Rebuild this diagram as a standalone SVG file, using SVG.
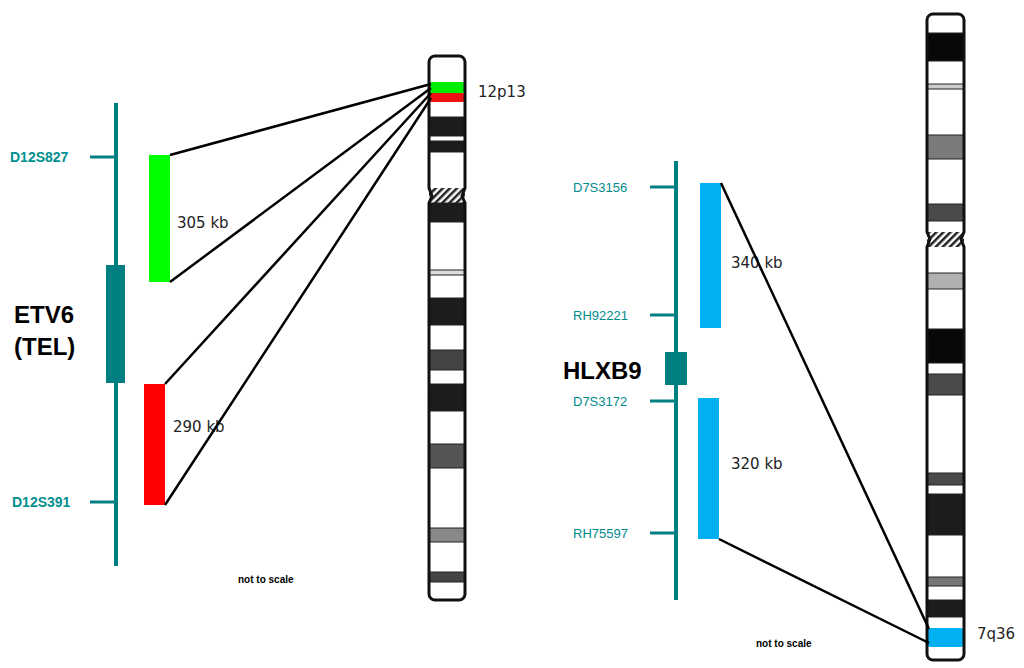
<svg xmlns="http://www.w3.org/2000/svg" width="1024" height="668" viewBox="0 0 1024 668">
<style>
.ax{stroke:#008080;stroke-width:4;fill:none}
.tk{stroke:#008080;stroke-width:3}
.ln{stroke:#000;stroke-width:2.5;fill:none}
.lb{font-family:"Liberation Sans",Arial,sans-serif;fill:#008b8b;font-size:13px}
.lbb{font-family:"Liberation Sans",Arial,sans-serif;fill:#009090;font-size:14px;font-weight:bold}
.kb{font-family:"DejaVu Sans",sans-serif;fill:#222;font-size:15px}
.bd{stroke:#222;stroke-width:1}
.ch{fill:none;stroke:#111;stroke-width:3}
</style>
<defs>
<pattern id="h" width="5" height="5" patternUnits="userSpaceOnUse" patternTransform="rotate(45)">
<rect width="5" height="5" fill="#fff"/><rect width="2.5" height="5" fill="#222"/>
</pattern>
</defs>
<rect width="1024" height="668" fill="#fff"/>
<g id="chr12">
<rect x="429" y="56" width="36" height="544" rx="6" fill="#fff"/>
<rect x="429" y="82" width="36" height="11" rx="3" fill="#00ee00"/>
<rect x="429" y="93" width="36" height="9" rx="3" fill="#ee1111"/>
<rect class="bd" x="429" y="117" width="36" height="19" fill="#1c1c1c"/>
<rect class="bd" x="429" y="141" width="36" height="11" fill="#1c1c1c"/>
<rect x="429" y="188" width="36" height="15" fill="url(#h)"/>
<rect class="bd" x="429" y="203" width="36" height="19" fill="#1c1c1c"/>
<rect class="bd" x="429" y="270" width="36" height="5" fill="#ddd"/>
<rect class="bd" x="429" y="298" width="36" height="27" fill="#1c1c1c"/>
<rect class="bd" x="429" y="350" width="36" height="20" fill="#444"/>
<rect class="bd" x="429" y="384" width="36" height="27" fill="#1c1c1c"/>
<rect class="bd" x="429" y="444" width="36" height="24" fill="#555"/>
<rect class="bd" x="429" y="528" width="36" height="14" fill="#888"/>
<rect class="bd" x="429" y="572" width="36" height="10" fill="#444"/>
<path class="ch" d="M435,56 h24 a6,6 0 0 1 6,6 v126 l-3,8 l3,7 v391 a6,6 0 0 1 -6,6 h-24 a6,6 0 0 1 -6,-6 v-391 l3,-7 l-3,-8 v-126 a6,6 0 0 1 6,-6 z"/>
<text x="478" y="97" class="kb" font-size="14">12p13</text>
</g>
<g id="chr7">
<rect x="927" y="14" width="37" height="646" rx="6" fill="#fff"/>
<rect class="bd" x="927" y="33" width="37" height="28" fill="#080808"/>
<rect class="bd" x="927" y="84" width="37" height="5" fill="#ccc"/>
<rect class="bd" x="927" y="135" width="37" height="24" fill="#7a7a7a"/>
<rect class="bd" x="927" y="204" width="37" height="17" fill="#4a4a4a"/>
<rect x="927" y="232" width="37" height="15" fill="url(#h)"/>
<rect class="bd" x="927" y="273" width="37" height="16" fill="#b0b0b0"/>
<rect class="bd" x="927" y="329" width="37" height="34" fill="#080808"/>
<rect class="bd" x="927" y="374" width="37" height="21" fill="#4a4a4a"/>
<rect class="bd" x="927" y="473" width="37" height="12" fill="#4a4a4a"/>
<rect class="bd" x="927" y="494" width="37" height="41" fill="#1c1c1c"/>
<rect class="bd" x="927" y="577" width="37" height="9" fill="#777"/>
<rect class="bd" x="927" y="600" width="37" height="17" fill="#1c1c1c"/>
<rect x="927" y="628" width="37" height="19" rx="4" fill="#00b0f0"/>
<path class="ch" d="M933,14 h25 a6,6 0 0 1 6,6 v212 l-3,7 l3,8 v407 a6,6 0 0 1 -6,6 h-25 a6,6 0 0 1 -6,-6 v-407 l3,-8 l-3,-7 v-212 a6,6 0 0 1 6,-6 z"/>
<text x="977" y="639" class="kb" font-size="14">7q36</text>
</g>
<g id="etv6">
<line class="ax" x1="116" y1="103" x2="116" y2="566"/>
<line class="tk" x1="90" y1="157" x2="116" y2="157"/>
<line class="tk" x1="90" y1="502" x2="116" y2="502"/>
<rect x="106" y="265" width="19" height="118" fill="#008080"/>
<text x="10" y="162" class="lbb">D12S827</text>
<text x="12" y="507" class="lbb">D12S391</text>
<text x="14" y="323" font-family="Liberation Sans,Arial,sans-serif" font-weight="bold" font-size="24">ETV6</text>
<text x="14" y="355" font-family="Liberation Sans,Arial,sans-serif" font-weight="bold" font-size="24">(TEL)</text>
<rect x="149" y="155" width="21" height="127" fill="#00ff00"/>
<rect x="144" y="384" width="21" height="121" fill="#ff0000"/>
<text x="177" y="228" class="kb">305 kb</text>
<text x="173" y="432" class="kb">290 kb</text>
<text x="238" y="583" font-family="Liberation Sans,Arial,sans-serif" font-weight="bold" font-size="10">not to scale</text>
</g>
<g id="hlxb9">
<line class="ax" x1="676" y1="161" x2="676" y2="600"/>
<line class="tk" x1="650" y1="187" x2="676" y2="187"/>
<line class="tk" x1="650" y1="315" x2="676" y2="315"/>
<line class="tk" x1="650" y1="401" x2="676" y2="401"/>
<line class="tk" x1="650" y1="533" x2="676" y2="533"/>
<rect x="665" y="352" width="22" height="33" fill="#008080"/>
<text x="573" y="192" class="lb">D7S3156</text>
<text x="573" y="320" class="lb">RH92221</text>
<text x="573" y="406" class="lb">D7S3172</text>
<text x="573" y="538" class="lb">RH75597</text>
<text x="563" y="379" font-family="Liberation Sans,Arial,sans-serif" font-weight="bold" font-size="24">HLXB9</text>
<rect x="700" y="183" width="21" height="145" fill="#00b0f0"/>
<rect x="698" y="398" width="21" height="141" fill="#00b0f0"/>
<text x="731" y="268" class="kb">340 kb</text>
<text x="731" y="469" class="kb">320 kb</text>
<text x="756" y="647" font-family="Liberation Sans,Arial,sans-serif" font-weight="bold" font-size="10">not to scale</text>
</g>
<g id="connectors">
<line class="ln" x1="170" y1="155" x2="431" y2="84"/>
<line class="ln" x1="170" y1="282" x2="431" y2="88"/>
<line class="ln" x1="165" y1="384" x2="431" y2="93"/>
<line class="ln" x1="165" y1="505" x2="431" y2="98"/>
<line class="ln" x1="721" y1="183" x2="929" y2="629"/>
<line class="ln" x1="719" y1="539" x2="929" y2="643"/>
</g>
</svg>
